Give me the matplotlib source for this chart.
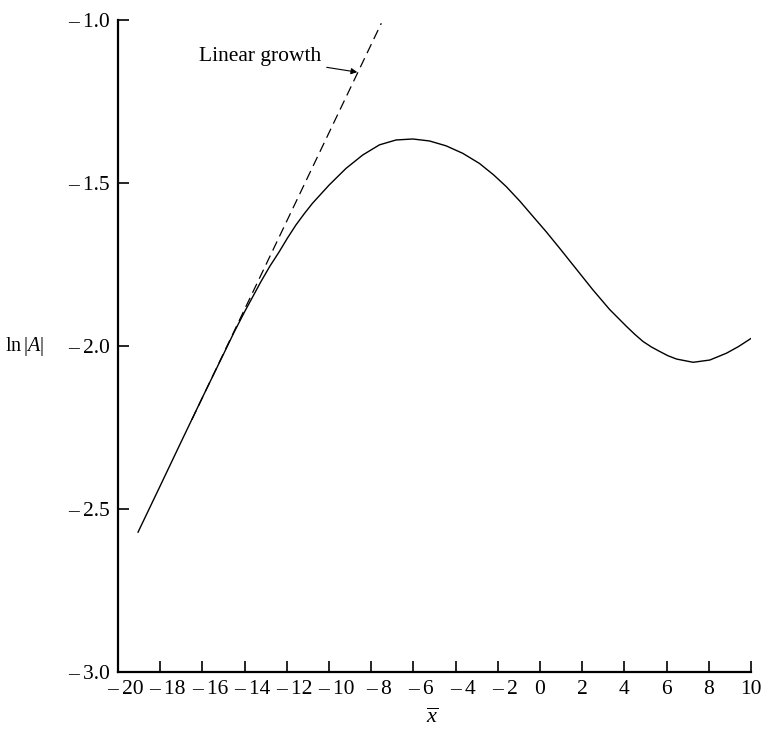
import matplotlib
matplotlib.use("Agg")
import matplotlib.pyplot as plt
from matplotlib.transforms import ScaledTranslation

plt.rcParams["font.family"] = ["Liberation Serif", "DejaVu Serif"]
plt.rcParams["mathtext.fontset"] = "custom"
plt.rcParams["mathtext.rm"] = "Liberation Serif"
plt.rcParams["mathtext.it"] = "Liberation Serif:italic"

# Amplitude curve ln|A| against x-bar
x_curve = [-19.05, -18.0, -17.0, -16.0, -15.0, -14.5, -14.0, -13.23, -12.8, -12.36,
           -11.97, -11.57, -11.17, -10.78, -9.99, -9.19, -8.40, -7.61, -6.82, -6.03,
           -5.24, -4.45, -3.66, -2.87, -2.2, -1.6, -0.95, -0.34, 0.3, 0.93,
           1.72, 2.51, 3.30, 4.10, 4.49, 4.88, 5.28, 5.68, 6.07, 6.47,
           7.26, 8.05, 8.84, 9.4, 10.02]
lnA_curve = [-2.571, -2.429, -2.293, -2.158, -2.025, -1.958, -1.895, -1.803, -1.755, -1.711,
             -1.669, -1.629, -1.594, -1.562, -1.506, -1.455, -1.414, -1.383, -1.368, -1.365,
             -1.371, -1.386, -1.409, -1.440, -1.475, -1.511, -1.556, -1.602, -1.650, -1.700,
             -1.764, -1.828, -1.888, -1.940, -1.964, -1.986, -2.003, -2.017, -2.030, -2.040,
             -2.050, -2.043, -2.022, -2.002, -1.976]

# Linear-growth asymptote (end points)
x_linear = [-16.5, -7.52]
lnA_linear = [-2.226, -1.010]

x_ticks = list(range(-20, 11, 2))
y_ticks = [-3.0, -2.5, -2.0, -1.5, -1.0]

FS = 15.5

fig = plt.figure(figsize=(7.65, 7.32), dpi=100)
ax = fig.add_axes([118 / 765, 1 - 672 / 732, (751 - 118) / 765, (672 - 20) / 732])

ax.plot(x_curve, lnA_curve, color="black", lw=1.0)
ax.plot(x_linear, lnA_linear, color="black", lw=0.9, dashes=(8, 4.5))

ax.set_xlim(-20, 10)
ax.set_ylim(-3.0, -1.0)

for side in ("top", "right"):
    ax.spines[side].set_visible(False)
for side in ("left", "bottom"):
    ax.spines[side].set_linewidth(1.6)

ax.set_xticks(x_ticks)
ax.set_yticks(y_ticks)


def fmt_num(v, decimals):
    s = f"{abs(v):.{decimals}f}"
    return ("\u2013\u2009" + s) if v < 0 else s


ax.set_xticklabels([fmt_num(v, 0) for v in x_ticks])
ax.set_yticklabels([fmt_num(v, 1) for v in y_ticks])
ax.tick_params(axis="both", direction="in", length=8, width=1.2,
               labelsize=FS, colors="black")
ax.tick_params(axis="x", pad=6)
ax.tick_params(axis="y", pad=6)

# centre the digits (not the minus sign) under each x tick
shift = ScaledTranslation(5.5 / 72, 0, fig.dpi_scale_trans)
for lab, v in zip(ax.get_xticklabels(), x_ticks):
    if v < 0:
        lab.set_transform(lab.get_transform() + shift)

fig.text(5 / 765, 1 - 346 / 732, r"$\mathrm{ln}\,|A|$", fontsize=14.5,
         ha="left", va="center")
fig.text(432 / 765, 1 - 718 / 732, r"$\overline{x}$", fontsize=16,
         ha="center", va="center")

ax.annotate("Linear growth", xy=(-8.66, -1.160), xytext=(-10.37, -1.113),
            fontsize=FS, ha="right", va="center",
            arrowprops=dict(arrowstyle="-|>", color="black", lw=0.8,
                            mutation_scale=9, shrinkA=2, shrinkB=0))

fig.savefig("out.png", dpi=100, facecolor="white")
